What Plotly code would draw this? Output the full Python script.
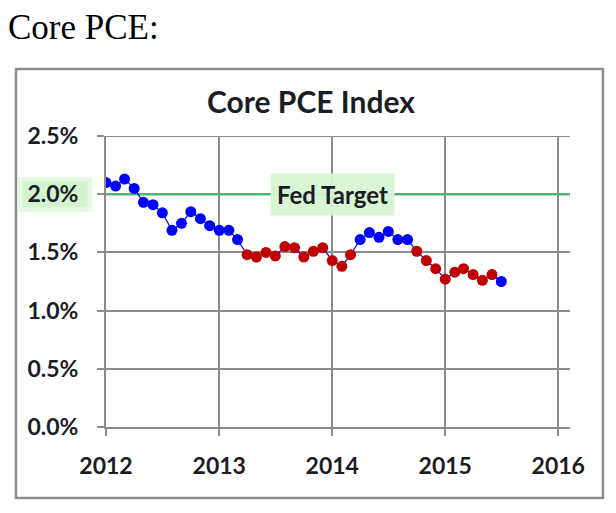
import plotly.graph_objects as go

# ---- data ----
months = [f"{y}-{m:02d}-01" for y in (2012, 2013, 2014, 2015) for m in range(1, 13)][:43]
core_pce = [2.10, 2.07, 2.13, 2.05, 1.93, 1.91, 1.84, 1.69, 1.75, 1.85, 1.79, 1.73,
            1.69, 1.69, 1.61, 1.48, 1.46, 1.50, 1.47, 1.55, 1.54, 1.46, 1.51, 1.54,
            1.43, 1.38, 1.48, 1.61, 1.67, 1.63, 1.68, 1.61, 1.61, 1.51, 1.43, 1.36,
            1.27, 1.33, 1.36, 1.31, 1.26, 1.31, 1.25]
point_group = (["blue"] * 15 + ["red"] * 12 + ["blue"] * 6 + ["red"] * 9 + ["blue"] * 1)
fed_target = 2.0
y_tick_vals = [0.0, 0.5, 1.0, 1.5, 2.0, 2.5]
y_tick_text = ["0.0%", "0.5%", "1.0%", "1.5%", "2.0%", "2.5%"]
x_tick_vals = ["2012-01-01", "2013-01-01", "2014-01-01", "2015-01-01", "2016-01-01"]
x_tick_text = ["2012", "2013", "2014", "2015", "2016"]

color_map = {"blue": "#0000ff", "red": "#c00000"}
marker_colors = [color_map[g] for g in point_group]

GRID = "#8c8c8c"
TXT = "#1c1c24"
FONT = "Lato"

fig = go.Figure()

# Fed target line
fig.add_trace(go.Scatter(
    x=["2012-01-01", "2016-02-08"], y=[fed_target, fed_target],
    mode="lines", line=dict(color="#4fb277", width=2.5),
    hoverinfo="skip", showlegend=False))

fig.add_trace(go.Scatter(
    x=months, y=core_pce, mode="lines+markers",
    line=dict(color="#0000ff", width=1.2),
    marker=dict(color=marker_colors, size=11, line=dict(width=0)),
    showlegend=False))

fig.update_layout(
    width=608, height=505,
    margin=dict(l=98, r=46, t=128, b=86),
    paper_bgcolor="white", plot_bgcolor="white",
    font=dict(family=FONT, color=TXT),
    xaxis=dict(
        type="date", range=["2012-01-01", "2016-02-08"],
        tickvals=x_tick_vals, ticktext=x_tick_text,
        showgrid=True, gridcolor=GRID, gridwidth=2,
        showline=True, linecolor=GRID, linewidth=2,
        ticks="outside", ticklen=7, tickcolor=GRID, tickwidth=2,
        tickfont=dict(family=FONT, size=23, color=TXT, weight="bold"),
        ticklabelstandoff=10,
        zeroline=False),
    yaxis=dict(
        range=[0, 2.5],
        tickvals=y_tick_vals, ticktext=y_tick_text,
        showgrid=True, gridcolor=GRID, gridwidth=2,
        showline=True, linecolor=GRID, linewidth=2,
        ticks="outside", ticklen=7, tickcolor=GRID, tickwidth=2,
        tickfont=dict(family=FONT, size=23, color=TXT, weight="bold"),
        ticklabelstandoff=14,
        zeroline=False),
)

# top gridline at 2.5 (ensure visible)
fig.add_shape(type="line", xref="paper", yref="y", x0=0, x1=1, y0=2.5, y1=2.5,
              line=dict(color=GRID, width=2), layer="below")

# outer frame
fig.add_shape(type="rect", xref="paper", yref="paper",
              x0=-0.194, x1=1.071, y0=-0.244, y1=1.230,
              line=dict(color="#8c8c8c", width=2.5), fillcolor="rgba(0,0,0,0)", layer="below")

# green glow behind 2.0% tick label
fig.add_shape(type="rect", xref="paper", yref="paper",
              x0=-0.19, x1=-0.03, y0=0.74, y1=0.86,
              line=dict(width=0), fillcolor="rgba(215,245,210,0.6)", layer="below")
fig.add_shape(type="rect", xref="paper", yref="paper",
              x0=-0.18, x1=-0.04, y0=0.755, y1=0.845,
              line=dict(width=0), fillcolor="rgba(205,242,200,0.8)", layer="below")

# Fed Target label
fig.add_annotation(x="2014-01-01", y=fed_target, xref="x", yref="y",
                   text="<b>Fed Target</b>", showarrow=False,
                   font=dict(family=FONT, size=24, color=TXT),
                   bgcolor="rgba(215,245,210,0.95)", borderpad=6)

# chart title
fig.add_annotation(x=0.442, y=1.12, xref="paper", yref="paper",
                   text="<b>Core PCE Index</b>", showarrow=False,
                   font=dict(family=FONT, size=30, color=TXT),
                   xanchor="center", yanchor="middle")

# page heading
fig.add_annotation(x=-0.215, y=1.372, xref="paper", yref="paper",
                   text="Core PCE:", showarrow=False,
                   font=dict(family="Liberation Serif", size=35, color="black"),
                   xanchor="left", yanchor="middle")

fig.write_html("out.html")
